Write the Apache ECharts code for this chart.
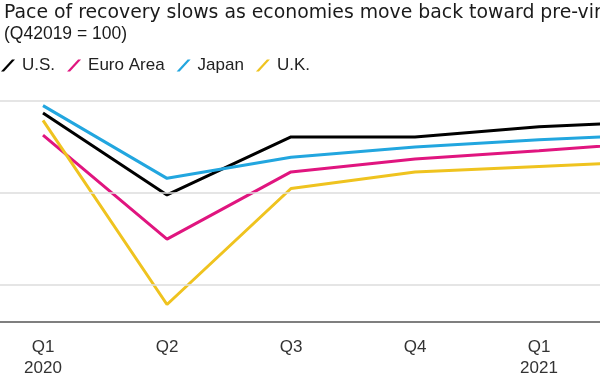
<!DOCTYPE html>
<html>
<head>
<meta charset="utf-8">
<script src="https://cdn.jsdelivr.net/npm/echarts@6/dist/echarts.min.js"></script>
<style>
  html, body { margin: 0; padding: 0; background: #fff; }
  #chart { width: 600px; height: 375px; }
</style>
</head>
<body>
<div id="chart"></div>
<script>
// quarters, last one sits just off the right edge
var quarters = ['Q1\n2020', 'Q2', 'Q3', 'Q4', 'Q1\n2021', 'Q2'];
var usData    = [98.7, 89.8, 96.1, 96.1, 97.2, 97.8];
var euroData  = [96.3, 85.0, 92.3, 93.7, 94.6, 95.6];
var japanData = [99.5, 91.6, 93.9, 95.0, 95.8, 96.4];
var ukData    = [97.9, 77.9, 90.5, 92.3, 92.9, 93.5];
var gridValues = [80, 90, 100];

var slash = 'path://M0,12L11,0L14,0L3,12Z';
var font = '"Liberation Sans", Arial, sans-serif';

function makeLine(name, data, color) {
    return {
        name: name,
        type: 'line',
        data: data,
        symbol: 'none',
        lineStyle: { color: color, width: 3 },
        itemStyle: { color: color }
    };
}

var myChart = echarts.init(document.getElementById('chart'));
var series = [
    makeLine('U.S.', usData, '#000000'),
    makeLine('Euro Area', euroData, '#e0157f'),
    makeLine('Japan', japanData, '#22a6df'),
    makeLine('U.K.', ukData, '#efc31f')
];
// gridlines at the round index values
series[0].markLine = {
    silent: true,
    symbol: 'none',
    label: { show: false },
    lineStyle: { color: '#dcdcdc', width: 1.5, type: 'solid' },
    data: gridValues.map(function (v) { return { yAxis: v }; })
};

var option = {
    backgroundColor: '#fff',
    animation: false,
    title: [
        {
            text: 'Pace of recovery slows as economies move back toward pre-virus levels',
            left: -1, top: -1,
            textStyle: { fontFamily: '"DejaVu Sans", sans-serif', fontSize: 18.85, fontWeight: 'normal', color: '#1a1a1a' }
        },
        {
            text: '(Q42019 = 100)',
            left: -1, top: 20,
            textStyle: { fontFamily: font, fontSize: 17.5, fontWeight: 'normal', color: '#1a1a1a' }
        }
    ],
    legend: {
        left: -4, top: 52,
        icon: slash,
        itemWidth: 14, itemHeight: 12,
        itemGap: 12,
        textStyle: { fontFamily: font, fontSize: 17, color: '#222', padding: [0, 0, 0, 2] },
        data: ['U.S.', 'Euro Area', 'Japan', 'U.K.']
    },
    grid: { left: -19, width: 744, top: 101, bottom: 53, outerBoundsMode: 'none', containLabel: false },
    xAxis: {
        type: 'category',
        data: quarters,
        boundaryGap: true,
        axisLine: { lineStyle: { color: '#555', width: 1.5 } },
        axisTick: { alignWithLabel: true, length: 6, lineStyle: { color: '#555', width: 1.5 } },
        axisLabel: {
            interval: 0, margin: 15,
            fontFamily: font, fontSize: 17, lineHeight: 21, color: '#333'
        },
        splitLine: { show: false }
    },
    yAxis: {
        type: 'value',
        min: 76, max: 100,
        axisLine: { show: false },
        axisTick: { show: false },
        axisLabel: { show: false },
        splitLine: { show: false }
    },
    series: series
};
myChart.setOption(option);
</script>
</body>
</html>
